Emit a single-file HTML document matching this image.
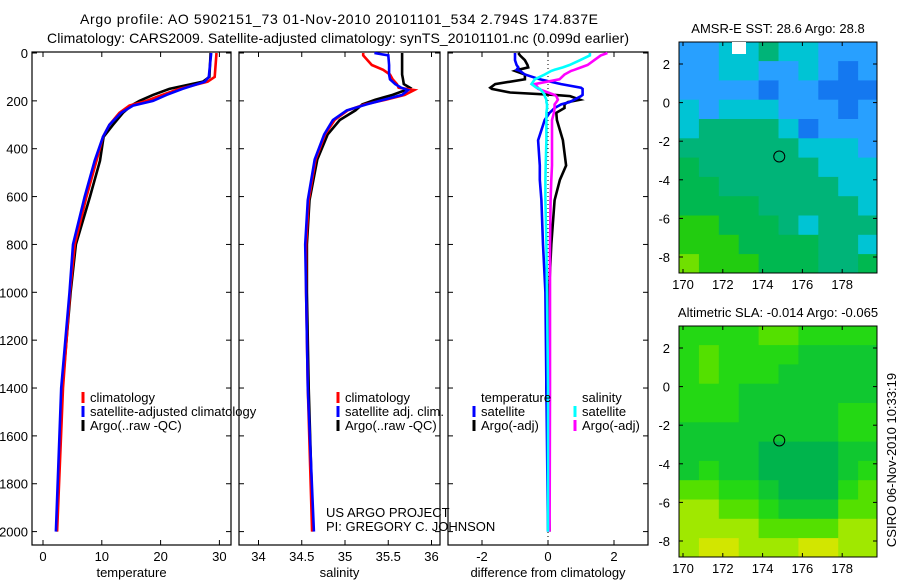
<!DOCTYPE html>
<html><head><meta charset="utf-8"><style>
html,body{margin:0;padding:0;background:#fff;}
svg{display:block;font-family:"Liberation Sans",Arial,sans-serif;}
</style></head><body>
<svg id="fig" width="900" height="580" viewBox="0 0 900 580">
<text x="339" y="24" font-size="14" text-anchor="middle" textLength="518">Argo profile: AO 5902151_73 01-Nov-2010 20101101_534 2.794S 174.837E</text>
<text x="338" y="43" font-size="14" text-anchor="middle" textLength="582">Climatology: CARS2009. Satellite-adjusted climatology: synTS_20101101.nc (0.099d earlier)</text>
<g id="plots"></g>
</svg>
<script>
// ---------- data ----------
const tDepth=[0,100,120,150,175,200,220,250,300,350,450,600,800,1000,1400,2000];
const tClim=[29.5,29.2,28,23.2,20.3,17.6,14.7,13,11.3,10.2,9.1,7.4,5.4,4.6,3.4,2.4];
const tSat=[28.6,28.2,27.5,23.7,21,18.7,15.3,13.3,11.3,10.2,8.8,7.1,5.1,4.5,3.1,2.2];
const tArgo=[28.5,28.3,27.2,21.5,18.7,16.4,15,13.6,11.9,10.3,9.7,8,5.6,4.7,3.3,2.3];
const sDepth=[0,10,50,70,90,110,130,145,155,175,195,215,240,280,340,445,615,800,1000,1400,2000];
const sClim=[35.21,35.21,35.31,35.44,35.52,35.55,35.6,35.62,35.8,35.69,35.47,35.23,35.03,34.88,34.77,34.66,34.58,34.55,34.55,34.57,34.62];
const sSat=[35.34,35.5,35.51,35.51,35.51,35.52,35.58,35.65,35.73,35.66,35.45,35.25,35.02,34.86,34.76,34.65,34.57,34.54,34.55,34.57,34.64];
const sArgo=[35.66,35.66,35.66,35.66,35.66,35.67,35.68,35.75,35.7,35.55,35.35,35.2,35.12,34.94,34.8,34.68,34.59,34.56,34.56,34.58,34.63];
const dDepth=[0,10,30,50,60,70,75,90,110,130,145,150,165,175,180,195,205,215,230,250,280,365,470,530,615,800,1000,1400,2000];
const dTSat=[-1.0,-1.0,-1.0,-0.95,-0.9,-0.95,-0.85,-0.7,-0.25,0.4,1.0,1.05,1.05,1.05,1.0,0.8,0.65,0.4,0.2,0.05,-0.1,-0.3,-0.25,-0.25,-0.2,-0.15,-0.08,-0.05,0];
const dTArgo=[-0.9,-0.85,-0.7,-0.62,-0.6,-0.9,-1.0,-0.7,-0.7,-1.6,-1.75,-1.7,-1.15,0.2,0.67,0.97,0.6,0.5,0.5,0.25,0.27,0.45,0.55,0.36,0.2,0.1,0.03,-0.05,0.05];
const dSSat=[1.27,1.27,0.97,0.65,0.45,0.2,0.1,-0.1,-0.4,-0.5,-0.35,-0.25,-0.15,-0.1,-0.1,-0.05,-0.05,-0.03,-0.03,-0.05,-0.05,-0.05,-0.07,-0.08,-0.08,-0.05,-0.03,0,0];
const dSArgo=[1.8,1.6,1.4,1.2,1.0,0.8,0.7,0.5,0.35,-0.4,-0.3,-0.3,0.0,0.2,0.25,0.3,0.25,0.2,0.2,0.18,0.12,0.12,0.12,0.1,0.08,0.06,0.06,0.06,0.05];
const depthTicks=[0,200,400,600,800,1000,1200,1400,1600,1800,2000];
const tTicks=[0,10,20,30];
const sTicks=[34,34.5,35,35.5,36];
const dTicks=[-2,0,2];
const lonTicks=[170,172,174,176,178];
const latTicks=[2,0,-2,-4,-6,-8];
const floatLon=174.837, floatLat=-2.794;
const sstGrid=[
[2,2,3,3,4,3,3,2,2,2],
[2,2,3,3,2,2,3,2,1,2],
[2,2,2,2,1,2,2,1,1,1],
[3,2,3,3,3,2,2,2,1,2],
[3,4,4,4,4,3,1,2,2,2],
[4,4,4,4,4,4,3,3,3,2],
[5,4,4,4,4,4,4,3,3,3],
[5,5,4,4,4,4,4,4,3,3],
[5,5,5,5,4,4,4,4,4,3],
[6,6,5,5,5,4,3,4,4,4],
[6,6,6,5,5,5,5,4,4,3],
[7,6,6,6,5,5,5,4,4,5]];
const slaGrid=[
[2,2,2,2,3,3,2,2,2,2],
[2,3,2,2,2,2,1,1,1,1],
[2,3,2,2,2,1,1,1,1,1],
[2,2,2,1,1,1,1,1,1,1],
[2,2,2,1,1,1,1,1,2,2],
[1,1,1,1,1,1,1,1,2,2],
[1,1,1,1,0,0,0,0,1,1],
[1,2,1,1,0,0,0,0,1,2],
[3,3,2,2,1,0,0,0,2,3],
[4,4,3,3,2,1,1,1,3,3],
[4,4,4,4,3,3,3,3,4,4],
[4,5,5,4,4,4,5,5,4,4]];
const sstColors=['#0020a0','#1478f0','#28a0ff','#00c4d4','#00b478','#00b850','#22cc10','#70e000'];
const slaColors=['#00b44c','#10c830','#24d814','#54e000','#a0e800','#d2e600'];

// ---------- drawing ----------
const NS='http://www.w3.org/2000/svg';
const root=document.getElementById('plots');
function mk(tag,attrs,parent){const e=document.createElementNS(NS,tag);for(const k in attrs)e.setAttribute(k,attrs[k]);(parent||root).appendChild(e);return e;}
const yTop=53, yScale=0.2393, axTop=52, axBot=545;
const FS=13;
function yD(d){return yTop+d*yScale;}

function panel(name,left,right,x0val,x0px,pxPer,ticks,title,showY,tickFmt){
  const g=mk('g',{});
  
  
  const xf=v=>x0px+(v-x0val)*pxPer;
  const r=mk('rect',{x:left,y:axTop,width:right-left,height:axBot-axTop,fill:'none',stroke:'#000','stroke-width':1.2},g);
  
  
  depthTicks.forEach(d=>{const y=yD(d);
    mk('line',{x1:left,x2:left+5,y1:y,y2:y,stroke:'#000'},g);
    mk('line',{x1:right-5,x2:right,y1:y,y2:y,stroke:'#000'},g);
    if(showY){const t=mk('text',{x:left-4,y:y+5,'font-size':FS,'text-anchor':'end'},g);t.textContent=d;
      
      }
  });
  ticks.forEach(v=>{const x=xf(v);
    mk('line',{x1:x,x2:x,y1:axBot,y2:axBot-5,stroke:'#000'},g);
    mk('line',{x1:x,x2:x,y1:axTop,y2:axTop+5,stroke:'#000'},g);
    const t=mk('text',{x:x,y:561,'font-size':FS,'text-anchor':'middle'},g);t.textContent=tickFmt?tickFmt(v):v;
    
    
  });
  const tt=mk('text',{x:(left+right)/2,y:577,'font-size':FS,'text-anchor':'middle'},g);tt.textContent=title;
  
  
  return {g,xf};
}
function line(p,depths,vals,color,name,w){
  const pts=depths.map((d,i)=>p.xf(vals[i]).toFixed(1)+','+yD(d).toFixed(1)).join(' ');
  const l=mk('polyline',{points:pts,fill:'none',stroke:color,'stroke-width':w||2.6,'stroke-linejoin':'miter'},p.g);
  
  
}
function legend(g,x,y,color,label,name){
  if(color){mk('line',{x1:x,x2:x,y1:y-10,y2:y+1,stroke:color,'stroke-width':3},g);}
  const t=mk('text',{x:x+7,y:y,'font-size':FS},g);t.textContent=label;
  
  
}

// Panel 1 temperature
const p1=panel('temperature',32,231,0,43,5.88,tTicks,'temperature',true);
line(p1,tDepth,tArgo,'#000','argo-temperature-line');
line(p1,tDepth,tClim,'#ff0000','climatology-temperature-line');
line(p1,tDepth,tSat,'#0000ff','satellite-temperature-line');
legend(p1.g,83,402,'#ff0000','climatology','legend-climatology');
legend(p1.g,83,416,'#0000ff','satellite-adjusted climatology','legend-satellite-adjusted');
legend(p1.g,83,430,'#000','Argo(..raw -QC)','legend-argo');

// Panel 2 salinity
const p2=panel('salinity',239,440,35,345,86.5,sTicks,'salinity',false);
line(p2,sDepth,sArgo,'#000','argo-salinity-line');
line(p2,sDepth,sClim,'#ff0000','climatology-salinity-line');
line(p2,sDepth,sSat,'#0000ff','satellite-salinity-line');
legend(p2.g,338,402,'#ff0000','climatology','legend-climatology-2');
legend(p2.g,338,416,'#0000ff','satellite adj. clim.','legend-satellite-2');
legend(p2.g,338,430,'#000','Argo(..raw -QC)','legend-argo-2');

// Panel 3 differences
const p3=panel('difference',448,648,0,548,33,dTicks,'difference from climatology',false,v=>v);
mk('line',{x1:548,x2:548,y1:axTop,y2:axBot,stroke:'#000','stroke-dasharray':'1,3'},p3.g);
line(p3,dDepth,dTArgo,'#000','argo-temperature-diff-line');
line(p3,dDepth,dTSat,'#0000ff','satellite-temperature-diff-line');
line(p3,dDepth,dSArgo,'#ff00ff','argo-salinity-diff-line');
line(p3,dDepth,dSSat,'#00ffff','satellite-salinity-diff-line');
legend(p3.g,474,402,null,'temperature','legend-temperature-header');
legend(p3.g,474,416,'#0000ff','satellite','legend-temp-satellite');
legend(p3.g,474,430,'#000','Argo(-adj)','legend-temp-argo');
legend(p3.g,575,402,null,'salinity','legend-salinity-header');
legend(p3.g,575,416,'#00ffff','satellite','legend-sal-satellite');
legend(p3.g,575,430,'#ff00ff','Argo(-adj)','legend-sal-argo');

const pi1=mk('text',{x:326,y:517,'font-size':FS});pi1.textContent='US ARGO PROJECT';


const pi2=mk('text',{x:326,y:531,'font-size':FS});pi2.textContent='PI: GREGORY C. JOHNSON';



// Maps
function map(name,top,grid,colors,title){
  const L=679,R=877,T=top,B=top+231;
  const lonX=lon=>683+(lon-170)*19.9;
  const latY=lat=>(top+22)+(2-lat)*19.3;
  const g=mk('g',{});
  
  
  grid.forEach((row,ri)=>row.forEach((v,ci)=>{
    const x1=Math.max(L,lonX(170+ci-0.2)), x2=Math.min(R,lonX(171+ci-0.2));
    const y1=Math.max(T,latY(3-ri+0.15)), y2=Math.min(B,latY(2-ri+0.15));
    const c=mk('rect',{x:x1,y:y1,width:x2-x1+0.5,height:y2-y1+0.5,fill:colors[v]},g);
    
    
  }));
  mk('rect',{x:L,y:T,width:R-L,height:B-T,fill:'none',stroke:'#000'},g);
  const cc=mk('circle',{cx:lonX(floatLon),cy:latY(floatLat),r:5.5,fill:'none',stroke:'#000'},g);
  
  
  lonTicks.forEach(v=>{const x=lonX(v);
    mk('line',{x1:x,x2:x,y1:B,y2:B-4,stroke:'#000'},g);mk('line',{x1:x,x2:x,y1:T,y2:T+4,stroke:'#000'},g);
    const t=mk('text',{x:x,y:B+16,'font-size':FS,'text-anchor':'middle'},g);t.textContent=v;
    
    });
  latTicks.forEach(v=>{const y=latY(v);
    mk('line',{x1:L,x2:L+4,y1:y,y2:y,stroke:'#000'},g);mk('line',{x1:R-4,x2:R,y1:y,y2:y,stroke:'#000'},g);
    const t=mk('text',{x:L-9,y:y+5,'font-size':FS,'text-anchor':'end'},g);t.textContent=v;
    
    });
  const tt=mk('text',{x:778,y:top-9,'font-size':FS,'text-anchor':'middle'},g);tt.textContent=title;
  
  
  return g;
}
const m1=map('sst-map',42,sstGrid,sstColors,'AMSR-E SST: 28.6 Argo: 28.8');
mk('rect',{x:732,y:42,width:14,height:12,fill:'#fff'},m1);
map('sla-map',326,slaGrid,slaColors,'Altimetric SLA: -0.014 Argo: -0.065');
const cs=mk('text',{x:0,y:0,'font-size':FS,'text-anchor':'middle',transform:'translate(896,460) rotate(-90)'});
cs.textContent='CSIRO 06-Nov-2010 10:33:19';


</script>
</body></html>
